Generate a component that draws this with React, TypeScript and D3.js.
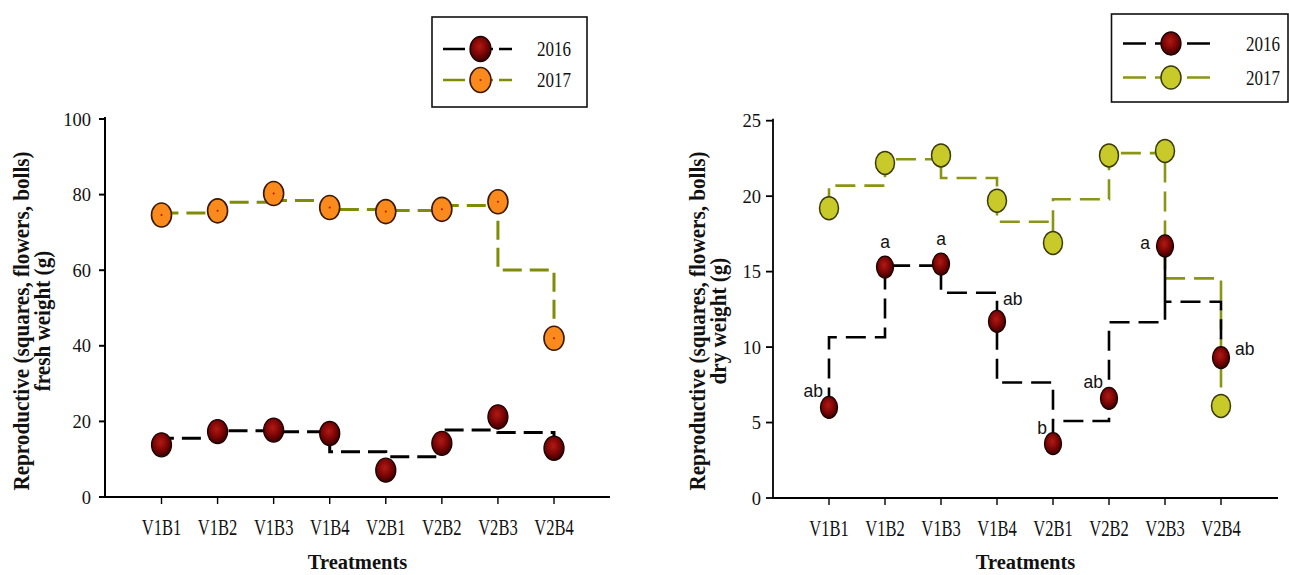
import React from 'react';
import * as d3 from 'd3';

const categories = ['V1B1', 'V1B2', 'V1B3', 'V1B4', 'V2B1', 'V2B2', 'V2B3', 'V2B4'];
const years = ['2016', '2017'];
const fresh2016 = [13.8, 17.3, 17.7, 16.8, 7.1, 14.2, 21.2, 12.9];
const fresh2017 = [74.6, 75.7, 80.3, 76.6, 75.5, 76.1, 78.1, 42.0];
const dry2016 = [6.0, 15.3, 15.5, 11.7, 3.6, 6.6, 16.7, 9.3];
const dry2017 = [19.2, 22.2, 22.7, 19.7, 16.9, 22.7, 23.0, 6.1];
const dryLetters2016 = ['ab', 'a', 'a', 'ab', 'b', 'ab', 'a', 'ab'];
const dryLetterSide = ['upper-left', 'above', 'above', 'upper-right', 'upper-left', 'upper-left', 'left', 'right'];
const freshTicks = [0, 20, 40, 60, 80, 100];
const dryTicks = [0, 5, 10, 15, 20, 25];

const SERIF = '"Liberation Serif", "Times New Roman", serif';
const SANS = '"Liberation Sans", Arial, sans-serif';

function stepMeanPoints(values: number[], x: d3.ScalePoint<string>, y: d3.ScaleLinear<number, number>): [number, number][] {
  const pts: [number, number][] = [];
  values.forEach((v, i) => {
    const xi = x(categories[i]) as number;
    if (i === 0) pts.push([xi, y(v)]);
    if (i < values.length - 1) {
      const m = (v + values[i + 1]) / 2;
      const xn = x(categories[i + 1]) as number;
      pts.push([xi, y(m)]);
      pts.push([xn, y(m)]);
      pts.push([xn, y(values[i + 1])]);
    }
  });
  return pts;
}

const line = d3.line<[number, number]>().x(d => d[0]).y(d => d[1]);

const sideOffsets: Record<string, { dx: number; dy: number; anchor: string }> = {
  'upper-left': { dx: -6, dy: -10, anchor: 'end' },
  above: { dx: 0, dy: -19, anchor: 'middle' },
  'upper-right': { dx: 6, dy: -16, anchor: 'start' },
  left: { dx: -15, dy: 3, anchor: 'end' },
  right: { dx: 14, dy: -3, anchor: 'start' },
};

function DarkMarker({ cx, cy, rx, ry }: { cx: number; cy: number; rx: number; ry: number }) {
  return <ellipse cx={cx} cy={cy} rx={rx} ry={ry} fill="url(#darkRed)" stroke="#1a0000" strokeWidth={1.3} />;
}

function OrangeMarker({ cx, cy, rx, ry }: { cx: number; cy: number; rx: number; ry: number }) {
  return (
    <g>
      <ellipse cx={cx} cy={cy} rx={rx} ry={ry} fill="#fb8a1c" stroke="#3a1800" strokeWidth={1.6} />
      <circle cx={cx} cy={cy} r={1} fill="#b01000" />
    </g>
  );
}

function YellowMarker({ cx, cy, rx, ry }: { cx: number; cy: number; rx: number; ry: number }) {
  return <ellipse cx={cx} cy={cy} rx={rx} ry={ry} fill="#c8ca2a" stroke="#3a3a08" strokeWidth={1.5} />;
}

function Panel(props: {
  x0: number; x1: number; y0: number; y1: number;
  xFirst: number; xLast: number;
  yDomainMax: number; ticks: number[];
  s2016: number[]; s2017: number[];
  color2017: string; Marker2017: any;
  rx16: number; ry16: number; rx17: number; ry17: number;
  dash: string; lw: number; axisW: number;
  titleLine1: string; titleLine2: string; t1x: number; t2x: number; titleCy: number;
  tickLabelRight: number; tickStart: number;
  letters?: string[]; sides?: string[];
}) {
  const p = props;
  const x = d3.scalePoint<string>().domain(categories).range([p.xFirst, p.xLast]);
  const y = d3.scaleLinear().domain([0, p.yDomainMax]).range([p.y0, p.y1]);
  const path16 = line(stepMeanPoints(p.s2016, x, y)) || '';
  const path17 = line(stepMeanPoints(p.s2017, x, y)) || '';
  const M17 = p.Marker2017;
  return (
    <g>
      <line x1={p.x0} x2={p.x0} y1={y(p.yDomainMax) - 2} y2={p.y0 + p.axisW / 2} stroke="#000" strokeWidth={p.axisW} />
      <line x1={p.x0} x2={p.x1} y1={p.y0} y2={p.y0} stroke="#000" strokeWidth={p.axisW} />
      {p.ticks.map(t => (
        <g key={'yt' + t}>
          <line x1={p.tickStart} x2={p.x0} y1={y(t)} y2={y(t)} stroke="#000" strokeWidth={p.axisW} />
          <text x={p.tickLabelRight} y={y(t) + 6.5} textAnchor="end" fontFamily={SERIF} fontSize={18.5} fill="#111">{t}</text>
        </g>
      ))}
      {categories.map(c => (
        <g key={'xt' + c}>
          <line x1={x(c)} x2={x(c)} y1={p.y0} y2={p.y0 + 7} stroke="#000" strokeWidth={1.4} />
          <text transform={`translate(${x(c)},${p.y0 + 38}) scale(0.72,1)`} textAnchor="middle" fontFamily={SERIF} fontSize={23} fill="#111">{c}</text>
        </g>
      ))}
      <text x={(p.x0 + p.x1) / 2} y={569} textAnchor="middle" fontFamily={SERIF} fontWeight="bold" fontSize={20.5} fill="#111">Treatments</text>
      <text transform={`translate(${p.t1x},${p.titleCy}) rotate(-90) scale(0.9,1)`} textAnchor="middle" fontFamily={SERIF} fontWeight="bold" fontSize={23.5} fill="#111">{p.titleLine1}</text>
      <text transform={`translate(${p.t2x},${p.titleCy}) rotate(-90) scale(0.9,1)`} textAnchor="middle" fontFamily={SERIF} fontWeight="bold" fontSize={23.5} fill="#111">{p.titleLine2}</text>
      <path d={path17} fill="none" stroke={p.color2017} strokeWidth={p.lw} strokeDasharray={p.dash} />
      <path d={path16} fill="none" stroke="#000" strokeWidth={p.lw} strokeDasharray={p.dash} />
      {p.s2017.map((v, i) => (
        <M17 key={'m17' + i} cx={x(categories[i])} cy={y(v)} rx={p.rx17} ry={p.ry17} />
      ))}
      {p.s2016.map((v, i) => (
        <DarkMarker key={'m16' + i} cx={x(categories[i]) as number} cy={y(v)} rx={p.rx16} ry={p.ry16} />
      ))}
      {p.letters && p.sides && p.letters.map((l, i) => {
        const o = sideOffsets[p.sides![i]];
        return (
          <text key={'l' + i} x={(x(categories[i]) as number) + o.dx} y={y(p.s2016[i]) + o.dy} textAnchor={o.anchor as any}
            fontFamily={SANS} fontSize={17.5} fill="#111">{l}</text>
        );
      })}
    </g>
  );
}

function Legend(props: { bx: number; by: number; bw: number; bh: number; lx1: number; lx2: number; rows: number[]; textX: number; color2017: string; Marker2017: any; rx: number; ry: number; dash: string }) {
  const p = props;
  const M17 = p.Marker2017;
  const mx = (p.lx1 + p.lx2) / 2 + 3;
  return (
    <g>
      <rect x={p.bx} y={p.by} width={p.bw} height={p.bh} fill="#fff" stroke="#111" strokeWidth={1.6} />
      {years.map((yr, i) => (
        <g key={yr}>
          <line x1={p.lx1} x2={p.lx2} y1={p.rows[i]} y2={p.rows[i]} stroke={i === 0 ? '#000' : p.color2017} strokeWidth={2.5} strokeDasharray={p.dash} />
          {i === 0 ? <DarkMarker cx={mx} cy={p.rows[i]} rx={p.rx} ry={p.ry} /> : <M17 cx={mx} cy={p.rows[i]} rx={p.rx} ry={p.ry} />}
          <text transform={`translate(${p.textX},${p.rows[i] + 7}) scale(0.85,1)`} fontFamily={SERIF} fontSize={20} fill="#111">{yr}</text>
        </g>
      ))}
    </g>
  );
}

export default function App() {
  return (
    <svg width={1289} height={575} style={{ position: 'absolute', left: 0, top: 0, background: '#fff' }}>
      <defs>
        <radialGradient id="darkRed" cx="45%" cy="40%" r="60%">
          <stop offset="0%" stopColor="#b01a14" />
          <stop offset="55%" stopColor="#7e0606" />
          <stop offset="100%" stopColor="#3a0000" />
        </radialGradient>
      </defs>
      <Panel x0={105} x1={610} y0={497} y1={119} xFirst={161.5} xLast={554} yDomainMax={100} ticks={freshTicks}
        s2016={fresh2016} s2017={fresh2017} color2017="#7f8c06" Marker2017={OrangeMarker}
        rx16={10} ry16={12} rx17={10} ry17={12} dash="19,8" lw={3} axisW={2}
        titleLine1="Reproductive (squares, flowers, bolls)" titleLine2="fresh weight (g)" t1x={29} t2x={50} titleCy={321}
        tickLabelRight={91} tickStart={99} />
      <Panel x0={773} x1={1278} y0={498} y1={120.7} xFirst={829} xLast={1221} yDomainMax={25} ticks={dryTicks}
        s2016={dry2016} s2017={dry2017} color2017="#8a9612" Marker2017={YellowMarker}
        rx16={8.5} ry16={11} rx17={9.5} ry17={11.5} dash="20,9" lw={2.6} axisW={1.8}
        titleLine1="Reproductive (squares, flowers, bolls)" titleLine2="dry weight (g)" t1x={705} t2x={726} titleCy={321}
        tickLabelRight={761} tickStart={766}
        letters={dryLetters2016} sides={dryLetterSide} />
      <Legend bx={432} by={17} bw={155} bh={90} lx1={443} lx2={512} rows={[49, 80]} textX={537}
        color2017="#7f8c06" Marker2017={OrangeMarker} rx={10.5} ry={12.5} dash="22,6" />
      <Legend bx={1111.5} by={14} bw={176.5} bh={88} lx1={1123} lx2={1213} rows={[43.5, 77.5]} textX={1246}
        color2017="#8a9612" Marker2017={YellowMarker} rx={10} ry={11.5} dash="23,9" />
    </svg>
  );
}
